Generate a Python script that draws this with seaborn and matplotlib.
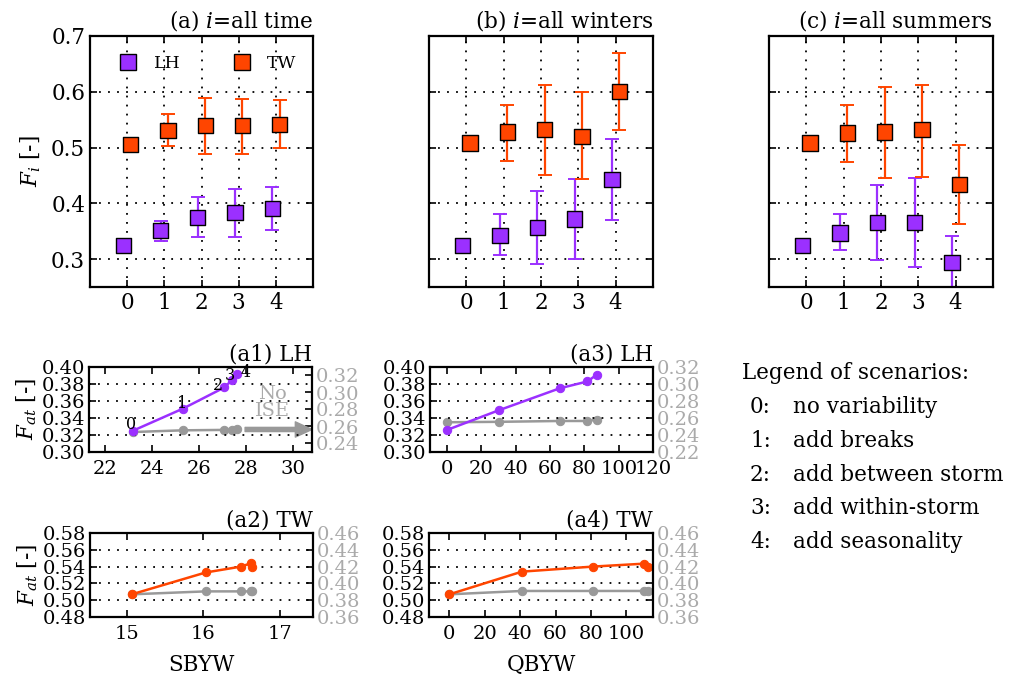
import numpy as np
import pandas as pd
import matplotlib
matplotlib.use("Agg")
import matplotlib.pyplot as plt
from matplotlib.ticker import FormatStrFormatter, MultipleLocator
import seaborn as sns

# ---------------- data ----------------
scenarios = [0, 1, 2, 3, 4]
sites = ["LH", "TW"]

# (a) all time
a_lh = [0.325, 0.351, 0.374, 0.383, 0.391]
a_lh_lo = [0.325, 0.333, 0.339, 0.339, 0.352]
a_lh_hi = [0.325, 0.369, 0.411, 0.426, 0.429]
a_tw = [0.506, 0.531, 0.539, 0.539, 0.542]
a_tw_lo = [0.506, 0.502, 0.489, 0.489, 0.499]
a_tw_hi = [0.506, 0.560, 0.588, 0.587, 0.585]

# (b) all winters
b_lh = [0.325, 0.343, 0.357, 0.372, 0.443]
b_lh_lo = [0.325, 0.307, 0.292, 0.301, 0.371]
b_lh_hi = [0.325, 0.380, 0.423, 0.443, 0.516]
b_tw = [0.508, 0.528, 0.532, 0.520, 0.600]
b_tw_lo = [0.508, 0.476, 0.450, 0.443, 0.532]
b_tw_hi = [0.508, 0.577, 0.613, 0.599, 0.669]

# (c) all summers
c_lh = [0.324, 0.347, 0.365, 0.365, 0.294]
c_lh_lo = [0.324, 0.316, 0.299, 0.286, 0.220]
c_lh_hi = [0.324, 0.380, 0.433, 0.445, 0.341]
c_tw = [0.508, 0.526, 0.528, 0.532, 0.434]
c_tw_lo = [0.508, 0.474, 0.445, 0.447, 0.363]
c_tw_hi = [0.508, 0.577, 0.609, 0.612, 0.505]

# lower panels: F_at against storm size metrics
sbyw_lh = [23.17, 25.30, 27.07, 27.40, 27.60]
fat_lh_sbyw = [0.325, 0.351, 0.376, 0.385, 0.392]
noise_lh_sbyw = [0.2535, 0.2555, 0.2560, 0.2562, 0.2575]

qbyw_lh = [0.0, 30.0, 65.7, 81.8, 87.2]
fat_lh_qbyw = [0.326, 0.349, 0.375, 0.383, 0.391]
noise_lh_qbyw = [0.2550, 0.2555, 0.2565, 0.2565, 0.2580]

sbyw_tw = [15.065, 16.03, 16.49, 16.62, 16.63]
fat_tw_sbyw = [0.507, 0.533, 0.540, 0.544, 0.540]
noise_tw_sbyw = [0.3870, 0.3905, 0.3905, 0.3905, 0.3910]

qbyw_tw = [0.0, 41.0, 81.0, 110.0, 112.0]
fat_tw_qbyw = [0.507, 0.534, 0.540, 0.5435, 0.540]
noise_tw_qbyw = [0.3870, 0.3910, 0.3910, 0.3910, 0.3905]

legend_codes = ["0:", "1:", "2:", "3:", "4:"]
legend_texts = ["no variability", "add breaks", "add between storm",
                "add within-storm", "add seasonality"]

# ---------------- style ----------------
sns.set_theme(style="ticks")
plt.rcParams.update({
    "font.family": ["DejaVu Serif"],
    "mathtext.fontset": "dejavuserif",
    "axes.linewidth": 1.6,
    "axes.edgecolor": "black",
    "xtick.direction": "in",
    "ytick.direction": "in",
    "xtick.major.size": 5,
    "ytick.major.size": 5,
    "xtick.color": "black",
    "ytick.color": "black",
    "text.color": "black",
    "axes.labelcolor": "black",
})

PURPLE = "#9B30FF"
ORANGE = "#FF4500"
GREY = "#999999"
LIGHT = "#aaaaaa"
palette = {"LH": PURPLE, "TW": ORANGE}
DOTS = (0, (1, 4))

W, H = 1016, 677
fig = plt.figure(figsize=(W / 100, H / 100), dpi=100)


def box(left, top, right, bottom):
    return [left / W, 1 - bottom / H, (right - left) / W, (bottom - top) / H]


def top_panel(rect, lh, lh_lo, lh_hi, tw, tw_lo, tw_hi, title, show_y):
    ax = fig.add_axes(rect)
    rows = []
    for site, v, lo, hi, shift in (("LH", lh, lh_lo, lh_hi, -0.1),
                                   ("TW", tw, tw_lo, tw_hi, 0.1)):
        for s, val, l, h in zip(scenarios, v, lo, hi):
            rows.append(dict(site=site, pos=s + shift, F=val, lo=l, hi=h))
    df = pd.DataFrame(rows)
    for site in sites:
        d = df[df.site == site]
        ax.errorbar(d.pos, d.F, yerr=[d.F - d.lo, d.hi - d.F], fmt="none",
                    ecolor=palette[site], elinewidth=1.6, capsize=5,
                    capthick=1.4, zorder=2)
    sns.scatterplot(data=df, x="pos", y="F", hue="site", palette=palette,
                    marker="s", s=120, edgecolor="black", linewidth=1.0,
                    zorder=3, ax=ax, legend=show_y)
    ax.set_xlim(-1, 5)
    ax.set_ylim(0.25, 0.7)
    ax.set_xticks(scenarios)
    ax.yaxis.set_major_locator(MultipleLocator(0.1))
    ax.yaxis.set_major_formatter(FormatStrFormatter("%.1f"))
    ax.grid(True, color="black", linestyle=DOTS, linewidth=1.3)
    ax.tick_params(top=True, right=True, labelsize=15.5, width=1.2)
    ax.set_xlabel("")
    ax.set_ylabel("")
    if show_y:
        ax.set_ylabel(r"$F_i$ [-]", fontsize=15.5, labelpad=6)
        h, l = ax.get_legend_handles_labels()
        ax.legend(h, l, loc="upper center", ncol=2, frameon=False,
                  fontsize=12.5, handlelength=1.5, handletextpad=0.7,
                  columnspacing=2.8, bbox_to_anchor=(0.52, 0.985))
    else:
        ax.tick_params(labelleft=False)
    ax.set_title(title, loc="right", fontsize=15.5, pad=6)
    return ax


top_panel(box(90, 36, 313, 287), a_lh, a_lh_lo, a_lh_hi, a_tw, a_tw_lo, a_tw_hi,
          r"(a) $i$=all time", True)
top_panel(box(429, 36, 653, 287), b_lh, b_lh_lo, b_lh_hi, b_tw, b_tw_lo, b_tw_hi,
          r"(b) $i$=all winters", False)
top_panel(box(769, 36, 993, 287), c_lh, c_lh_lo, c_lh_hi, c_tw, c_tw_lo, c_tw_hi,
          r"(c) $i$=all summers", False)


def low_panel(rect, x, y, noise, color, xlim, xstep, ylim, ylim2, title,
              xlabel=None, show_ylabel=False):
    ax = fig.add_axes(rect)
    ax2 = ax.twinx()
    sns.lineplot(x=x, y=noise, ax=ax2, color=GREY, marker="o", markersize=6,
                 markeredgecolor=GREY, linewidth=1.8, sort=False,
                 estimator=None)
    sns.lineplot(x=x, y=y, ax=ax, color=color, marker="o", markersize=6,
                 markeredgecolor=color, linewidth=1.8, sort=False,
                 estimator=None)
    ax.set_zorder(ax2.get_zorder() + 1)
    ax.patch.set_visible(False)
    ax.set_xlim(*xlim)
    ax.xaxis.set_major_locator(MultipleLocator(xstep))
    ax.set_ylim(*ylim)
    ax.yaxis.set_major_locator(MultipleLocator(0.02))
    ax.yaxis.set_major_formatter(FormatStrFormatter("%.2f"))
    ax2.set_ylim(*ylim2)
    ax2.yaxis.set_major_locator(MultipleLocator(0.02))
    ax2.yaxis.set_major_formatter(FormatStrFormatter("%.2f"))
    ax.grid(True, axis="y", color="black", linestyle=DOTS, linewidth=1.3)
    ax.tick_params(top=True, right=False, labelsize=14, width=1.2, pad=3)
    ax.tick_params(axis="x", labelsize=14, pad=6)
    ax2.tick_params(axis="y", labelsize=14, labelcolor=LIGHT, color="black",
                    width=1.2, pad=3)
    for sp in ax2.spines.values():
        sp.set_visible(False)
    ax.set_title(title, loc="right", fontsize=15.5, pad=5)
    ax.set_ylabel(r"$F_{at}$ [-]" if show_ylabel else "", fontsize=15.5,
                  labelpad=2)
    ax.set_xlabel(xlabel if xlabel else "", fontsize=15.5, labelpad=8)
    ax2.set_ylabel("")
    return ax, ax2


ax1, ax1b = low_panel(box(89, 367, 312, 452), sbyw_lh, fat_lh_sbyw,
                      noise_lh_sbyw, PURPLE, (21.3, 30.8), 2, (0.30, 0.40),
                      (0.23, 0.33), "(a1) LH", show_ylabel=True)
# scenario numbers beside each point (offsets in pixels)
offsets = [(-2, 6), (-1, 5), (-6, 2), (-2, 4), (9, 1)]
for s, xv, yv, off in zip(scenarios, sbyw_lh, fat_lh_sbyw, offsets):
    ax1.annotate(str(s), (xv, yv), xytext=off, textcoords="offset pixels",
                 ha="center", va="center", fontsize=11.5)
ax1b.annotate("", xy=(30.8, 0.2565), xytext=(27.95, 0.2565),
              arrowprops=dict(color=GREY, width=3, headwidth=11,
                              headlength=12, shrink=0))
ax1b.text(29.1, 0.288, "No\nISE", ha="center", va="center", color=LIGHT,
          fontsize=14, linespacing=0.95)

low_panel(box(430, 367, 653, 452), qbyw_lh, fat_lh_qbyw, noise_lh_qbyw,
          PURPLE, (-10, 120), 20, (0.30, 0.40), (0.22, 0.32), "(a3) LH")
low_panel(box(90, 533, 313, 617), sbyw_tw, fat_tw_sbyw, noise_tw_sbyw,
          ORANGE, (14.52, 17.43), 1, (0.48, 0.58), (0.36, 0.46), "(a2) TW",
          xlabel="SBYW", show_ylabel=True)
low_panel(box(429, 533, 653, 617), qbyw_tw, fat_tw_qbyw, noise_tw_qbyw,
          ORANGE, (-11.5, 115), 20, (0.48, 0.58), (0.36, 0.46), "(a4) TW",
          xlabel="QBYW")

# scenario legend block
fig.text(742 / W, 1 - 373 / H, "Legend of scenarios:", fontsize=15.5,
         va="center", ha="left")
for i, (code, txt) in enumerate(zip(legend_codes, legend_texts)):
    yy = 1 - (407 + i * 33.8) / H
    fig.text(750 / W, yy, code, fontsize=15.5, va="center", ha="left")
    fig.text(793 / W, yy, txt, fontsize=15.5, va="center", ha="left")

fig.savefig("out.png", dpi=100)
